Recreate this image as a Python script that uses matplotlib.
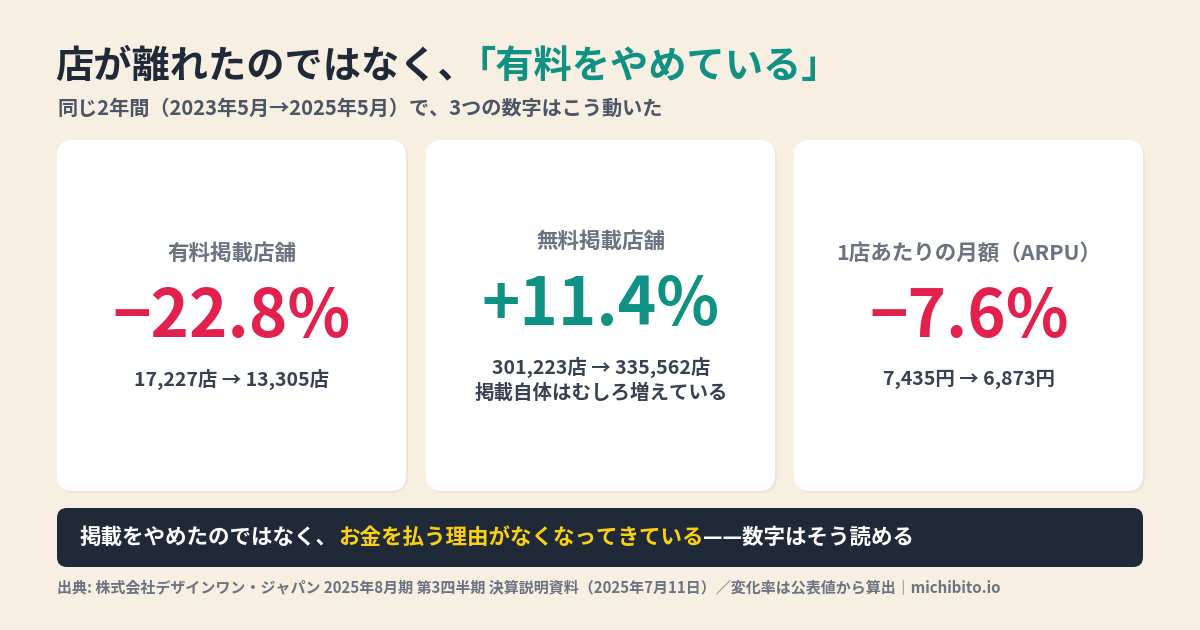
import matplotlib
matplotlib.use("Agg")
import matplotlib.pyplot as plt
from matplotlib.patches import FancyBboxPatch

plt.rcParams['font.family'] = ['Noto Sans CJK JP', 'DejaVu Sans']

labels = ["有料掲載店舗", "無料掲載店舗", "1店あたりの月額（ARPU）"]
changes = ["−22.8%", "+11.4%", "−7.6%"]
details = [["17,227店 → 13,305店"],
           ["301,223店 → 335,562店", "掲載自体はむしろ増えている"],
           ["7,435円 → 6,873円"]]
change_colors = ["#e3214f", "#0f9283", "#e3214f"]

BG = "#f6efe2"
DARK = "#1f2937"
GRAY = "#4b5563"

fig = plt.figure(figsize=(12, 6.3), dpi=100)
fig.patch.set_facecolor(BG)
ax = fig.add_axes([0, 0, 1, 1])
ax.set_xlim(0, 1200)
ax.set_ylim(630, 0)
ax.axis("off")


def multi(x, y, parts, size, gaps=None):
    # draw consecutive text parts with different colours
    fig.canvas.draw()
    r = fig.canvas.get_renderer()
    for k, (s, c) in enumerate(parts):
        if gaps:
            x += gaps[k]
        t = ax.text(x, y, s, color=c, fontsize=size, fontweight="bold", va="center", ha="left")
        bb = t.get_window_extent(r)
        x += bb.width


multi(55, 66, [("店が離れたのではなく、", DARK), ("「有料をやめている」", "#0f9283")], 27.5,
      gaps=[0, -18])
ax.text(57, 108, "同じ2年間（2023年5月→2025年5月）で、3つの数字はこう動いた",
        fontsize=14.5, fontweight="bold", color=GRAY, va="center")

lefts = [57, 426, 794]
for i, x0 in enumerate(lefts):
    ax.add_patch(FancyBboxPatch((x0 + 2, 142), 349, 351, boxstyle="round,pad=0,rounding_size=16",
                                fc="#ece5d8", ec="none", zorder=1))
    ax.add_patch(FancyBboxPatch((x0, 140), 349, 351, boxstyle="round,pad=0,rounding_size=16",
                                fc="white", ec="none", zorder=2))
    cx = x0 + 175
    off = -12 if len(details[i]) > 1 else 0
    ax.text(cx, 253 + off, labels[i], ha="center", va="center", fontsize=15.5,
            fontweight="bold", color="#6b7280", zorder=3)
    ax.text(cx, 318 + off, changes[i], ha="center", va="center", fontsize=47,
            fontweight="bold", color=change_colors[i], zorder=3)
    for j, d in enumerate(details[i]):
        ax.text(cx, 379 + off + 26 * j, d, ha="center", va="center", fontsize=14,
                fontweight="bold", color="#374151", zorder=3)

ax.add_patch(FancyBboxPatch((57, 508), 1086, 59, boxstyle="round,pad=0,rounding_size=10",
                            fc=DARK, ec="none", zorder=2))
multi(80, 537, [("掲載をやめたのではなく、", "white"),
                ("お金を払う理由がなくなってきている", "#fcd012"),
                ("——数字はそう読める", "white")], 15.5)

ax.text(57, 588, "出典: 株式会社デザインワン・ジャパン 2025年8月期 第3四半期 決算説明資料（2025年7月11日）／変化率は公表値から算出｜michibito.io",
        fontsize=10.8, fontweight="bold", color="#6b7280", va="center")

fig.savefig("out.png", dpi=100, facecolor=BG)
